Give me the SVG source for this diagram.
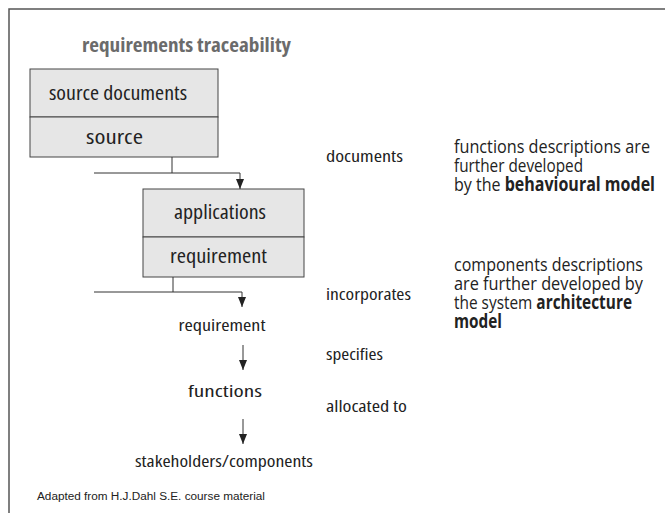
<svg xmlns="http://www.w3.org/2000/svg" width="665" height="513" viewBox="0 0 665 513">
<defs>
<style>
.frame{fill:none;stroke:#555;stroke-width:1.5}
.box{fill:#e6e6e6;stroke:#444;stroke-width:1}
.ln{fill:none;stroke:#333;stroke-width:1}
.t{font-family:"Open Sans","Noto Sans","Liberation Sans",sans-serif;font-stretch:condensed;fill:#222}
.bx{font-size:19px}
.lb{font-size:16px}
.nd{font-size:17px;text-anchor:middle}
.desc{font-size:19px;font-stretch:normal}
.b{font-weight:bold}
.title{font-size:20px;font-weight:bold;fill:#6b6b6b}
.note{font-family:"Liberation Sans","Open Sans",sans-serif;font-size:10px;fill:#222}
</style>
<marker id="ah" viewBox="0 0 10 8" refX="10" refY="4" markerWidth="10" markerHeight="8" markerUnits="userSpaceOnUse" orient="auto">
<path d="M0,0 L10,4 L0,8 Z" fill="#222"/>
</marker>
</defs>
<path class="frame" d="M9,513 V9 H665"/>
<text class="t title" x="82" y="52" textLength="209" lengthAdjust="spacingAndGlyphs">requirements traceability</text>
<g id="source-documents">
<rect class="box" x="30" y="69" width="188" height="48"/>
<rect class="box" x="30" y="117" width="188" height="40"/>
<text class="t bx" x="49" y="100" textLength="138" lengthAdjust="spacingAndGlyphs">source documents</text>
<text class="t bx" x="86" y="144" textLength="57" lengthAdjust="spacingAndGlyphs">source</text>
</g>
<g id="applications">
<rect class="box" x="143" y="189" width="161" height="48"/>
<rect class="box" x="143" y="237" width="161" height="40"/>
<text class="t bx" x="174" y="219" textLength="92" lengthAdjust="spacingAndGlyphs">applications</text>
<text class="t bx" x="170" y="263" textLength="97" lengthAdjust="spacingAndGlyphs">requirement</text>
</g>
<g id="requirement">
<text class="t nd" x="222" y="331" textLength="87" lengthAdjust="spacingAndGlyphs">requirement</text>
</g>
<g id="functions">
<text class="t nd" x="225" y="397" textLength="74" lengthAdjust="spacingAndGlyphs">functions</text>
</g>
<g id="stakeholders-components">
<text class="t nd" x="224" y="467" textLength="178" lengthAdjust="spacingAndGlyphs">stakeholders/components</text>
</g>
<g id="connectors">
<path class="ln" d="M172,157 V173"/>
<path class="ln" d="M94,173 H240 V189" marker-end="url(#ah)"/>
<path class="ln" d="M173,277 V292"/>
<path class="ln" d="M94,292 H242 V307" marker-end="url(#ah)"/>
<path class="ln" d="M243,345 V370" marker-end="url(#ah)"/>
<path class="ln" d="M243,419 V444" marker-end="url(#ah)"/>
<text class="t lb" x="326" y="162" textLength="77" lengthAdjust="spacingAndGlyphs">documents</text>
<text class="t lb" x="326" y="300" textLength="85" lengthAdjust="spacingAndGlyphs">incorporates</text>
<text class="t lb" x="326" y="360" textLength="57" lengthAdjust="spacingAndGlyphs">specifies</text>
<text class="t lb" x="326" y="412" textLength="81" lengthAdjust="spacingAndGlyphs">allocated to</text>
</g>
<g id="notes">
<text class="t desc" x="454" y="153" textLength="196" lengthAdjust="spacingAndGlyphs">functions descriptions are</text>
<text class="t desc" x="454" y="172" textLength="129" lengthAdjust="spacingAndGlyphs">further developed</text>
<text class="t desc" x="454" y="191" textLength="201" lengthAdjust="spacingAndGlyphs">by the <tspan class="b">behavioural model</tspan></text>
<text class="t desc" x="454" y="271" textLength="189" lengthAdjust="spacingAndGlyphs">components descriptions</text>
<text class="t desc" x="454" y="290" textLength="189" lengthAdjust="spacingAndGlyphs">are further developed by</text>
<text class="t desc" x="454" y="309" textLength="178" lengthAdjust="spacingAndGlyphs">the system <tspan class="b">architecture</tspan></text>
<text class="t desc b" x="454" y="328" textLength="48" lengthAdjust="spacingAndGlyphs">model</text>
</g>
<text class="note" x="37" y="500" textLength="228" lengthAdjust="spacingAndGlyphs">Adapted from H.J.Dahl S.E. course material</text>
</svg>
